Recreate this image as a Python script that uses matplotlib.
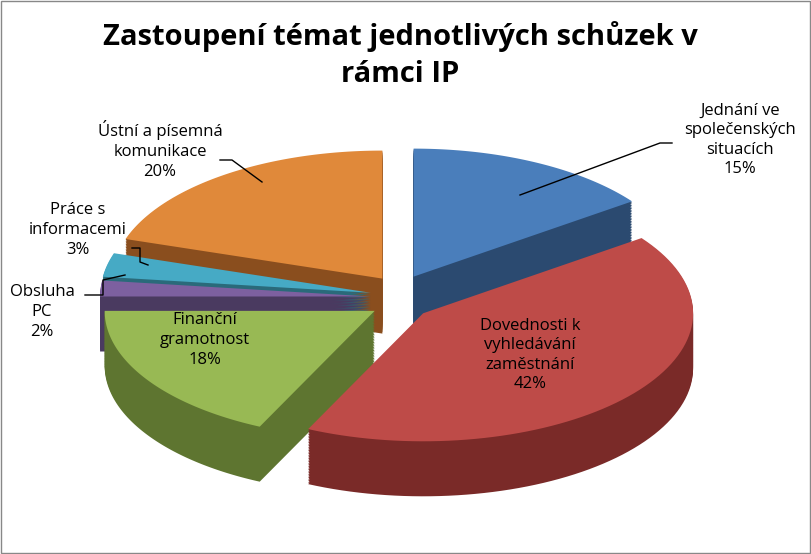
import matplotlib.pyplot as plt
import numpy as np
from matplotlib.patches import Polygon, Rectangle

labels = ['Jednání ve\nspolečenských\nsituacích', 'Dovednosti k\nvyhledávání\nzaměstnání',
          'Finanční\ngramotnost', 'Obsluha\nPC', 'Práce s\ninformacemi', 'Ústní a písemná\nkomunikace']
values = [15, 42, 18, 2, 3, 20]
top_cols = ['#4A7EBB', '#BE4B48', '#98B954', '#7D60A0', '#46AAC5', '#E0893A']
side_cols = ['#2B4A70', '#7A2A28', '#5E7530', '#4A3A60', '#2A6A7A', '#8A4E1E']

plt.rcParams['font.family'] = ['Open Sans', 'DejaVu Sans']
fig = plt.figure(figsize=(8.11, 5.54), dpi=100)
ax = fig.add_axes([0, 0, 1, 1])
ax.set_xlim(0, 811)
ax.set_ylim(554, 0)
ax.axis('off')
ax.add_patch(Rectangle((1, 1), 809, 552, fill=False, ec='#888888', lw=1))

cx, cy, rx, ry, depth, expl = 400, 298, 270, 128, 55, 30

# angles clockwise from top
fr = np.array(values) / sum(values)
starts = 90 - 360 * np.concatenate([[0], np.cumsum(fr)[:-1]])
ends = starts - 360 * fr

def slice_pts(a0, a1, ox, oy, dy):
    t = np.radians(np.linspace(a0, a1, 80))
    xs = np.concatenate([[ox], ox + rx * np.cos(t)])
    ys = np.concatenate([[oy], oy - ry * np.sin(t)]) + dy
    return np.column_stack([xs, ys])

order = sorted(range(len(values)), key=lambda i: -np.sin(np.radians((starts[i] + ends[i]) / 2)))
for i in order:
    m = np.radians((starts[i] + ends[i]) / 2)
    ox = cx + expl * np.cos(m)
    oy = cy - expl * 0.8 * np.sin(m)
    for d in np.linspace(depth, 1, 35):
        ax.add_patch(Polygon(slice_pts(starts[i], ends[i], ox, oy, d), closed=True,
                             fc=side_cols[i], ec='none'))
    ax.add_patch(Polygon(slice_pts(starts[i], ends[i], ox, oy, 0), closed=True,
                         fc=top_cols[i], ec='none'))

fs = 12
txt = lambda x, y, s: ax.text(x, y, s, ha='center', va='center', fontsize=fs, linespacing=1.3)
txt(740, 140, labels[0] + '\n%d%%' % values[0])
txt(530, 355, labels[1] + '\n%d%%' % values[1])
txt(205, 340, labels[2] + '\n%d%%' % values[2])
txt(42, 312, labels[3] + '\n%d%%' % values[3])
txt(78, 230, labels[4] + '\n%d%%' % values[4])
txt(160, 150, labels[5] + '\n%d%%' % values[5])
ax.plot([672, 660, 520], [143, 143, 195], color='black', lw=1)
ax.plot([220, 232, 262], [160, 160, 182], color='black', lw=1)
ax.plot([132, 140, 140, 148], [248, 248, 262, 265], color='black', lw=1)
ax.plot([85, 103, 103, 125], [295, 295, 280, 275], color='black', lw=1)

ax.text(400, 55, 'Zastoupení témat jednotlivých schůzek v\nrámci IP', ha='center', va='center',
        fontsize=21, fontweight='bold', linespacing=1.4)

fig.savefig('out.png', dpi=100)
